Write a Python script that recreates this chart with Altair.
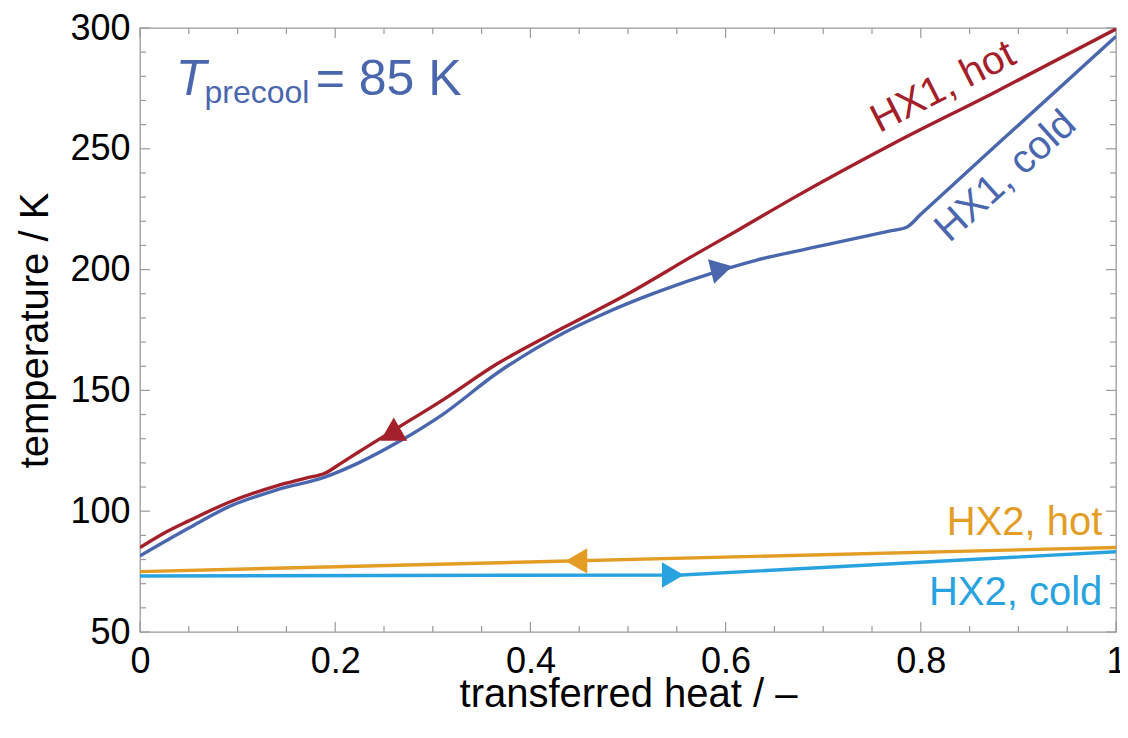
import altair as alt
import pandas as pd

# ---------------- data ----------------
hx1_hot_x = [0, 0.025, 0.05, 0.09, 0.14, 0.17, 0.19, 0.205, 0.224, 0.264, 0.31, 0.366, 0.434, 0.5, 0.57, 0.613, 0.671, 0.773, 0.875, 1.0]
hx1_hot_T = [85, 91, 96, 103.5, 110.5, 113.7, 115.8, 119.6, 124.5, 134.5, 146, 161, 176, 190, 206.5, 216.4, 230, 252.4, 273.2, 299.6]

hx1_cold_x = [0, 0.05, 0.09, 0.14, 0.19, 0.224, 0.264, 0.31, 0.366, 0.434, 0.468, 0.5, 0.536, 0.587, 0.631, 0.7, 0.77, 0.785, 0.8, 0.875, 1.0]
hx1_cold_T = [81.5, 93, 101.7, 108.8, 114.2, 120, 128.5, 140, 157.2, 173.8, 180.4, 186, 191.6, 198.6, 203.8, 210, 216.1, 217.4, 222.9, 250.6, 296.5]

hx2_hot_x = [0, 1.0]
hx2_hot_T = [75, 85]

hx2_cold_x = [0, 0.555, 1.0]
hx2_cold_T = [73.2, 73.6, 83.2]

series = ["HX1, hot", "HX1, cold", "HX2, hot", "HX2, cold"]
colors = ["#a3202a", "#4a67ae", "#e39d25", "#28a3e0"]

# flow-direction arrowheads
arrow_series = ["HX1, hot", "HX1, cold", "HX2, hot", "HX2, cold"]
arrow_x = [0.260, 0.596, 0.447, 0.546]
arrow_T = [134.0, 200.3, 79.4, 73.6]
arrow_shape = ["triangle-up", "triangle-right", "triangle-left", "triangle-right"]
arrow_angle = [0, 346, 0, 0]
arrow_size = [720, 640, 640, 640]

# curve labels
lab_text = ["HX1, hot", "HX1, cold"]
lab_x = [0.823, 0.887]
lab_T = [275.5, 238.5]
lab_angle = [333, 318]
lab_color = ["#a3202a", "#4a67ae"]

lab2_text = ["HX2, hot", "HX2, cold"]
lab2_x = [0.986, 0.986]
lab2_T = [95.1, 66.0]
lab2_color = ["#e39d25", "#28a3e0"]

# annotation T_precool = 85 K
ann_T_x, ann_T_y = 0.0367, 272.3
ann_sub_x, ann_sub_y = 0.0661, 269.0
ann_eq_x, ann_eq_y = 0.180, 272.3

x_major = [0, 0.2, 0.4, 0.6, 0.8, 1.0]
x_minor = [round(0.05 * i, 2) for i in range(21) if i % 4 != 0]
y_major = [50, 100, 150, 200, 250, 300]
y_minor = [v for v in range(50, 301, 10) if v % 50 != 0]

# ---------------- chart ----------------
W, H = 976, 604
FONT = "Liberation Sans"
TICKC = "#9a9a9a"

def make_df(parts):
    rows = []
    for name, xs_, ts_ in parts:
        for i, (a, b) in enumerate(zip(xs_, ts_)):
            rows.append({"series": name, "q": a, "T": b, "i": i})
    return pd.DataFrame(rows)

df1 = make_df([("HX1, cold", hx1_cold_x, hx1_cold_T), ("HX1, hot", hx1_hot_x, hx1_hot_T)])
df2 = make_df([("HX2, hot", hx2_hot_x, hx2_hot_T), ("HX2, cold", hx2_cold_x, hx2_cold_T)])

xs = alt.Scale(domain=[0, 1], nice=False, zero=False)
ys = alt.Scale(domain=[50, 300], nice=False, zero=False)
cscale = alt.Scale(domain=series, range=colors)

xaxis = alt.Axis(values=x_major, format="~g", grid=False, ticks=False, domain=False,
                 labelPadding=12, titleY=62, titleBaseline="middle",
                 labelFlush=False, labelOverlap=False)
yaxis = alt.Axis(values=y_major, grid=False, ticks=False, domain=False,
                 labelPadding=10, titlePadding=14, labelOverlap=False)

lines1 = alt.Chart(df1).mark_line(strokeWidth=3.4, clip=True, interpolate="monotone").encode(
    x=alt.X("q:Q", scale=xs, title="transferred heat / –", axis=xaxis),
    y=alt.Y("T:Q", scale=ys, title="temperature / K", axis=yaxis),
    color=alt.Color("series:N", scale=cscale, legend=None),
    order=alt.Order("i:Q"),
)
lines2 = alt.Chart(df2).mark_line(strokeWidth=3.4, clip=True).encode(
    x=alt.X("q:Q", scale=xs), y=alt.Y("T:Q", scale=ys),
    color=alt.Color("series:N", scale=cscale, legend=None),
    order=alt.Order("i:Q"),
)

adf = pd.DataFrame({"series": arrow_series, "q": arrow_x, "T": arrow_T,
                    "shape": arrow_shape, "angle": arrow_angle, "size": arrow_size})
arrows = alt.Chart(adf).mark_point(filled=True, opacity=1, strokeWidth=0).encode(
    x=alt.X("q:Q", scale=xs), y=alt.Y("T:Q", scale=ys),
    color=alt.Color("series:N", scale=cscale, legend=None),
    shape=alt.Shape("shape:N", scale=None),
    angle=alt.Angle("angle:Q", scale=None),
    size=alt.Size("size:Q", scale=None),
)

ldf = pd.DataFrame({"t": lab_text, "q": lab_x, "T": lab_T, "a": lab_angle, "c": lab_color})
labels1 = alt.Chart(ldf).mark_text(font=FONT, fontSize=40, align="center", baseline="middle").encode(
    x=alt.X("q:Q", scale=xs), y=alt.Y("T:Q", scale=ys), text="t:N",
    angle=alt.Angle("a:Q", scale=None), color=alt.Color("c:N", scale=None),
)
l2df = pd.DataFrame({"t": lab2_text, "q": lab2_x, "T": lab2_T, "c": lab2_color})
labels2 = alt.Chart(l2df).mark_text(font=FONT, fontSize=40, align="right", baseline="middle").encode(
    x=alt.X("q:Q", scale=xs), y=alt.Y("T:Q", scale=ys), text="t:N",
    color=alt.Color("c:N", scale=None),
)

ann_color = "#4a67ae"
annT = alt.Chart(pd.DataFrame({"q": [ann_T_x], "T": [ann_T_y], "t": ["T"]})).mark_text(
    font=FONT, fontSize=50, fontStyle="italic", align="left", baseline="alphabetic", color=ann_color
).encode(x=alt.X("q:Q", scale=xs), y=alt.Y("T:Q", scale=ys), text="t:N")
annSub = alt.Chart(pd.DataFrame({"q": [ann_sub_x], "T": [ann_sub_y], "t": ["precool"]})).mark_text(
    font=FONT, fontSize=32, align="left", baseline="alphabetic", color=ann_color
).encode(x=alt.X("q:Q", scale=xs), y=alt.Y("T:Q", scale=ys), text="t:N")
annEq = alt.Chart(pd.DataFrame({"q": [ann_eq_x], "T": [ann_eq_y], "t": ["= 85 K"]})).mark_text(
    font=FONT, fontSize=50, align="left", baseline="alphabetic", color=ann_color
).encode(x=alt.X("q:Q", scale=xs), y=alt.Y("T:Q", scale=ys), text="t:N")

# inward ticks on all four sides
def xticks(vals, ln):
    d = pd.DataFrame({"q": vals})
    bot = alt.Chart(d).mark_rule(color=TICKC, strokeWidth=1.2).encode(
        x=alt.X("q:Q", scale=xs), y=alt.value(H), y2=alt.value(H - ln))
    top = alt.Chart(d).mark_rule(color=TICKC, strokeWidth=1.2).encode(
        x=alt.X("q:Q", scale=xs), y=alt.value(0), y2=alt.value(ln))
    return [bot, top]

def yticks(vals, ln):
    d = pd.DataFrame({"T": vals})
    left = alt.Chart(d).mark_rule(color=TICKC, strokeWidth=1.2).encode(
        y=alt.Y("T:Q", scale=ys), x=alt.value(0), x2=alt.value(ln))
    right = alt.Chart(d).mark_rule(color=TICKC, strokeWidth=1.2).encode(
        y=alt.Y("T:Q", scale=ys), x=alt.value(W), x2=alt.value(W - ln))
    return [left, right]

ticks = xticks(x_major, 10) + xticks(x_minor, 6) + yticks(y_major, 10) + yticks(y_minor, 6)

chart = alt.layer(*ticks, lines2, lines1, arrows, labels1, labels2, annT, annSub, annEq).properties(
    width=W, height=H,
    autosize=alt.AutoSizeParams(type="none"),
    padding={"left": 132, "top": 20, "right": 4, "bottom": 86},
    background="white",
).configure_view(stroke=TICKC, strokeWidth=1.3).configure_axis(
    labelFont=FONT, labelFontSize=36, labelColor="black",
    titleFont=FONT, titleFontSize=40, titleFontWeight="normal", titleColor="black",
)

chart.save("out.html", embed_options={"renderer": "svg", "actions": False})
